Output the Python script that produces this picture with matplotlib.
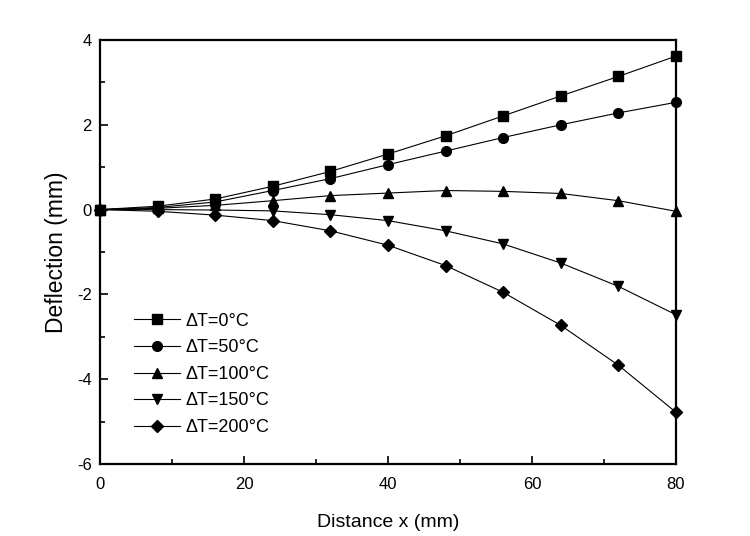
import numpy as np
import matplotlib.pyplot as plt

plt.rcParams['font.family'] = ['Liberation Sans', 'DejaVu Sans']
plt.rcParams['axes.unicode_minus'] = False

distance = [0, 8, 16, 24, 32, 40, 48, 56, 64, 72, 80]
dt0 = [0, 0.08, 0.25, 0.55, 0.90, 1.31, 1.74, 2.21, 2.68, 3.14, 3.62]
dt50 = [0, 0.05, 0.18, 0.45, 0.73, 1.06, 1.38, 1.70, 2.00, 2.28, 2.53]
dt100 = [0, 0.03, 0.10, 0.21, 0.33, 0.39, 0.45, 0.43, 0.38, 0.21, -0.04]
dt150 = [0, 0.0, -0.01, -0.03, -0.12, -0.26, -0.50, -0.81, -1.26, -1.81, -2.48]
dt200 = [0, -0.04, -0.13, -0.26, -0.50, -0.84, -1.32, -1.95, -2.73, -3.67, -4.78]

series = [
    (dt0, 's', 'ΔT=0°C'),
    (dt50, 'o', 'ΔT=50°C'),
    (dt100, '^', 'ΔT=100°C'),
    (dt150, 'v', 'ΔT=150°C'),
    (dt200, 'D', 'ΔT=200°C'),
]

fig = plt.figure(figsize=(7.5, 5.36), dpi=100)
ax = fig.add_axes([0.1333, 0.1343, 0.768, 0.7911])

for vals, mk, lab in series:
    ms = 6 if mk == 'D' else 7
    ax.plot(distance, vals, color='black', linewidth=0.8, marker=mk,
            markersize=ms, label=lab, clip_on=False, zorder=3)

ax.set_xlim(0, 80)
ax.set_ylim(-6, 4)
ax.set_xticks(np.arange(0, 81, 20))
ax.set_xticks(np.arange(0, 81, 10), minor=True)
ax.set_yticks(np.arange(-6, 5, 2))
ax.set_yticks(np.arange(-6, 5, 1), minor=True)
ax.tick_params(which='both', direction='in', top=False, right=False, labelsize=12)
ax.tick_params(axis='x', which='major', pad=9)
ax.tick_params(axis='y', which='major', pad=6)
ax.tick_params(which='major', length=6, width=1.2)
ax.tick_params(which='minor', length=3.5, width=1.2)
for sp in ax.spines.values():
    sp.set_linewidth(1.6)

ax.set_xlabel('Distance x (mm)', fontsize=14, labelpad=16)
ax.set_ylabel('Deflection (mm)', fontsize=16.5, labelpad=6)

ax.legend(loc='upper left', bbox_to_anchor=(0.03, 0.395), frameon=False,
          fontsize=13, handlelength=2.6, labelspacing=0.53, handletextpad=0.3)

fig.savefig('out.png', dpi=100)
